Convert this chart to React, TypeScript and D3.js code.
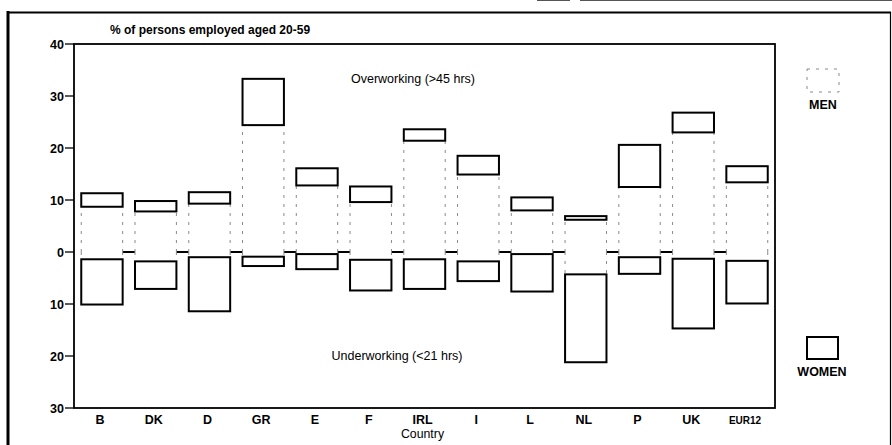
import * as d3 from "d3";
import React from "react";

// countries along the x axis
const countries = ["B", "DK", "D", "GR", "E", "F", "IRL", "I", "L", "NL", "P", "UK", "EUR12"];

// overworking (>45 hrs), % of persons employed
const menOver = [8.7, 7.8, 9.3, 24.4, 12.8, 9.6, 21.4, 14.9, 8.0, 6.2, 12.5, 23.0, 13.4];
const womenOver = [2.6, 2.0, 2.2, 8.9, 3.3, 3.0, 2.2, 3.6, 2.5, 0.7, 8.1, 3.8, 3.1];

// underworking (<21 hrs), drawn downwards
const menUnder = [1.4, 1.8, 1.0, 0.9, 0.4, 1.5, 1.4, 1.8, 0.4, 4.3, 1.0, 1.3, 1.7];
const womenUnder = [8.7, 5.3, 10.4, 1.8, 2.9, 5.9, 5.7, 3.8, 7.2, 16.9, 3.2, 13.4, 8.2];

const yTicks = [40, 30, 20, 10, 0, -10, -20, -30];

const FONT = "'Liberation Sans', Arial, sans-serif";

export default function App() {
  const W = 892;
  const H = 445;
  const plot = { left: 74, right: 775, top: 44, bottom: 408 };

  const x = d3
    .scaleBand<string>()
    .domain(countries)
    .range([plot.left, plot.right])
    .paddingInner(0.23)
    .paddingOuter(0.135);

  const y = d3.scaleLinear().domain([-30, 40]).range([plot.bottom, plot.top]);
  const bw = x.bandwidth();
  const y0 = y(0);

  // zero line shows only in the gaps between bars
  const gaps = countries.slice(0, -1).map((c, i) => ({
    x1: (x(c) as number) + bw,
    x2: x(countries[i + 1]) as number,
  }));

  const menDash = { stroke: "#8a8a8a", strokeWidth: 1, strokeDasharray: "3 6", fill: "none" };

  return (
    <svg
      width={W}
      height={H}
      style={{ position: "absolute", left: 0, top: 0, background: "#fff" }}
      fontFamily={FONT}
    >
      {/* scan edges at the top */}
      <line x1={537} x2={570} y1={0.5} y2={0.5} stroke="#555" strokeWidth={1} />
      <line x1={580} x2={892} y1={0.5} y2={0.5} stroke="#555" strokeWidth={1} />

      {/* outer frame */}
      <line x1={8} x2={8} y1={11} y2={H} stroke="#000" strokeWidth={3} />
      <line x1={7} x2={891} y1={12.5} y2={12.5} stroke="#000" strokeWidth={2} />
      <line x1={890.5} x2={890.5} y1={12} y2={H} stroke="#000" strokeWidth={1.2} />

      <text x={110} y={34} fontSize={12} fontWeight="bold">
        % of persons employed aged 20-59
      </text>

      {/* plot box */}
      <rect
        x={plot.left}
        y={plot.top}
        width={plot.right - plot.left}
        height={plot.bottom - plot.top}
        fill="none"
        stroke="#000"
        strokeWidth={1.8}
      />

      {/* y axis ticks */}
      {yTicks.map((t) => (
        <g key={t}>
          <line x1={plot.left - 9} x2={plot.left} y1={y(t)} y2={y(t)} stroke="#000" strokeWidth={1.3} />
          <text x={plot.left - 10} y={y(t) + 4.5} textAnchor="end" fontSize={12.5} fontWeight="bold">
            {Math.abs(t)}
          </text>
        </g>
      ))}

      <text x={413} y={82.5} textAnchor="middle" fontSize={12.5}>
        Overworking (&gt;45 hrs)
      </text>
      <text x={397} y={359.5} textAnchor="middle" fontSize={12.5}>
        Underworking (&lt;21 hrs)
      </text>

      {gaps.map((g, i) => (
        <line key={i} x1={g.x1} x2={g.x2} y1={y0} y2={y0} stroke="#000" strokeWidth={2} />
      ))}

      {countries.map((c, i) => {
        const bx = x(c) as number;
        const upMen = y(menOver[i]);
        const upTop = y(menOver[i] + womenOver[i]);
        const dnMen = y(-menUnder[i]);
        const dnBot = y(-(menUnder[i] + womenUnder[i]));
        return (
          <g key={c}>
            {/* men: dotted sides only */}
            <path d={`M${bx},${y0}V${upMen}M${bx + bw},${y0}V${upMen}`} {...menDash} />
            <path d={`M${bx},${y0}V${dnMen}M${bx + bw},${y0}V${dnMen}`} {...menDash} />
            {/* women: solid boxes stacked beyond the men */}
            <rect x={bx} y={upTop} width={bw} height={upMen - upTop} fill="#fff" stroke="#000" strokeWidth={2} />
            <rect x={bx} y={dnMen} width={bw} height={dnBot - dnMen} fill="#fff" stroke="#000" strokeWidth={2} />
            <text
              x={bx + bw / 2 - 2}
              y={424}
              textAnchor="middle"
              fontSize={c === "EUR12" ? 10 : 12.5}
              fontWeight="bold"
            >
              {c}
            </text>
          </g>
        );
      })}

      <text x={(x("IRL") as number) + bw / 2 - 2} y={437.5} textAnchor="middle" fontSize={12.3}>
        Country
      </text>

      {/* legend */}
      <rect x={807} y={69} width={32} height={23} {...menDash} />
      <text x={823} y={109} textAnchor="middle" fontSize={12.5} fontWeight="bold">
        MEN
      </text>
      <rect x={807} y={337} width={31} height={22} fill="#fff" stroke="#000" strokeWidth={2} />
      <text x={822} y={376} textAnchor="middle" fontSize={12.5} fontWeight="bold">
        WOMEN
      </text>
    </svg>
  );
}
